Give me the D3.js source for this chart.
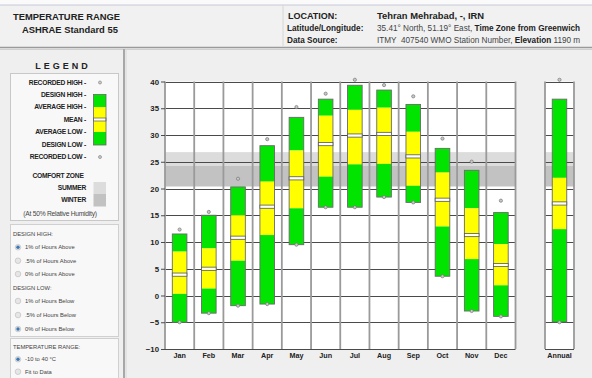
<!DOCTYPE html>
<html>
<head>
<meta charset="utf-8">
<script src="https://cdn.jsdelivr.net/npm/d3@7"></script>
<style>
  html, body { margin: 0; padding: 0; background: #efefef; }
  svg { display: block; font-family: "Liberation Sans", Arial, sans-serif; }
</style>
</head>
<body>
<svg id="chart" width="592" height="378"></svg>
<script>
// Monthly temperature statistics, °C
const months = ["Jan","Feb","Mar","Apr","May","Jun","Jul","Aug","Sep","Oct","Nov","Dec"];
const recordedHigh = [12.1, 15.4, 21.6, 29.0, 35.0, 37.5, 40.1, 39.1, 37.0, 29.1, 24.8, 17.5];
const designHigh   = [11.5, 15.0, 20.3, 28.0, 33.3, 36.7, 39.3, 38.4, 35.7, 27.5, 23.4, 15.5];
const averageHigh  = [ 8.2,  8.8, 15.0, 21.3, 27.1, 33.6, 34.7, 35.1, 30.6, 23.0, 16.3,  9.6];
const meanTemp     = [ 3.9,  5.0, 10.8, 16.6, 21.9, 28.3, 29.9, 30.2, 26.0, 17.9, 11.3,  5.7];
const averageLow   = [ 0.3,  1.3,  6.5, 11.3, 16.3, 22.2, 24.5, 24.6, 20.5, 12.9,  6.8,  1.9];
const designLow    = [-5.0, -3.3, -1.9, -1.6,  9.5, 16.5, 16.5, 18.4, 17.4,  3.6, -2.9, -3.9];
const recordedLow  = [-5.0, -3.3, -1.9, -1.6,  9.5, 16.5, 16.5, 18.4, 17.4,  3.6, -2.9, -3.9];

// Whole-year summary
const annualLabel = ["Annual"];
const annualStats = [40.1, 36.7, 22.0, 17.2, 12.4, -4.95, -5.0]; // recHigh, desHigh, avgHigh, mean, avgLow, desLow, recLow

// Comfort zones (°C at 50% RH)
const summerZone = [20.4, 26.8];
const winterZone = [20.4, 24.2];

const yTicks = [-10, -5, 0, 5, 10, 15, 20, 25, 30, 35, 40];

const GREEN = "#00e400", YELLOW = "#ffff00";
const svg = d3.select("#chart");

// ---------- header ----------
svg.append("rect").attr("x", 0).attr("y", 0).attr("width", 592).attr("height", 5).attr("fill", "#fafafa");
svg.append("rect").attr("x", 0).attr("y", 5).attr("width", 592).attr("height", 42).attr("fill", "#f1f1f1");
svg.append("line").attr("x1", 0).attr("x2", 592).attr("y1", 5).attr("y2", 5).attr("stroke", "#c6c8d8").attr("stroke-width", 1.2);
svg.append("line").attr("x1", 283).attr("x2", 283).attr("y1", 5).attr("y2", 46).attr("stroke", "#d6d6d6");
svg.append("line").attr("x1", 0).attr("x2", 592).attr("y1", 47.5).attr("y2", 47.5).attr("stroke", "#9a9a9a").attr("stroke-width", 1.6);
svg.append("line").attr("x1", 0).attr("x2", 592).attr("y1", 49.5).attr("y2", 49.5).attr("stroke", "#d0d0d0").attr("stroke-width", 1.2);

const hdr = svg.append("g").attr("fill", "#222");
hdr.append("text").attr("x", 13).attr("y", 20).attr("font-size", 9.4).attr("font-weight", "bold").text("TEMPERATURE RANGE");
hdr.append("text").attr("x", 22).attr("y", 33).attr("font-size", 9.4).attr("font-weight", "bold").text("ASHRAE Standard 55");

hdr.append("text").attr("x", 288).attr("y", 19).attr("font-size", 9).attr("font-weight", "bold").text("LOCATION:");
hdr.append("text").attr("x", 377).attr("y", 19).attr("font-size", 9.4).attr("font-weight", "bold").text("Tehran Mehrabad, -, IRN");
hdr.append("text").attr("x", 287).attr("y", 31).attr("font-size", 8.2).attr("font-weight", "bold").text("Latitude/Longitude:");
const ll = hdr.append("text").attr("x", 377).attr("y", 31).attr("font-size", 8.2);
ll.append("tspan").attr("fill", "#444").text("35.41° North, 51.19° East, ");
ll.append("tspan").attr("font-weight", "bold").text("Time Zone from Greenwich");
hdr.append("text").attr("x", 287).attr("y", 42.5).attr("font-size", 8.2).attr("font-weight", "bold").text("Data Source:");
const ds = hdr.append("text").attr("x", 377).attr("y", 42.5).attr("font-size", 8.2);
ds.append("tspan").attr("fill", "#444").text("ITMY");
ds.append("tspan").attr("x", 401).attr("fill", "#444").text("407540 WMO Station Number, ");
ds.append("tspan").attr("font-weight", "bold").text("Elevation");
ds.append("tspan").attr("fill", "#444").text(" 1190 m");

// ---------- left panel ----------
svg.append("line").attr("x1", 124).attr("x2", 124).attr("y1", 49).attr("y2", 378).attr("stroke", "#a8a8a8").attr("stroke-width", 2);
svg.append("line").attr("x1", 126).attr("x2", 126).attr("y1", 49).attr("y2", 378).attr("stroke", "#d8d8d8").attr("stroke-width", 1);

svg.append("text").attr("x", 63).attr("y", 69).attr("text-anchor", "middle").attr("font-size", 9).attr("font-weight", "bold")
  .attr("letter-spacing", 3).attr("fill", "#222").text("LEGEND");

svg.append("rect").attr("x", 10.5).attr("y", 73.5).attr("width", 108).attr("height", 147).attr("fill", "#f8f8f8").attr("stroke", "#c8c8c8");

const legendRows = [
  ["RECORDED HIGH -", 82.5], ["DESIGN HIGH -", 94.5], ["AVERAGE HIGH -", 106.8], ["MEAN -", 119.3],
  ["AVERAGE LOW -", 131.5], ["DESIGN LOW -", 144.3], ["RECORDED LOW -", 157]
];
const lg = svg.append("g").attr("font-size", 6.7).attr("font-weight", "bold").attr("fill", "#222").attr("letter-spacing", -0.25);
lg.selectAll("text.row").data(legendRows).join("text")
  .attr("x", 86).attr("y", d => d[1] + 2.3).attr("text-anchor", "end").text(d => d[0]);

// legend sample bar
const lbx = 93.5, lbw = 12.5;
svg.append("rect").attr("x", lbx).attr("y", 94.5).attr("width", lbw).attr("height", 12.5).attr("fill", GREEN);
svg.append("rect").attr("x", lbx).attr("y", 107).attr("width", lbw).attr("height", 11).attr("fill", YELLOW);
svg.append("rect").attr("x", lbx).attr("y", 121).attr("width", lbw).attr("height", 11).attr("fill", YELLOW);
svg.append("rect").attr("x", lbx).attr("y", 132).attr("width", lbw).attr("height", 13).attr("fill", GREEN);
svg.append("rect").attr("x", lbx).attr("y", 118).attr("width", lbw).attr("height", 3).attr("fill", "#fff").attr("stroke", "#555").attr("stroke-width", 0.7);
svg.append("rect").attr("x", lbx).attr("y", 94.5).attr("width", lbw).attr("height", 50.5).attr("fill", "none").attr("stroke", "#666").attr("stroke-width", 0.8);
[82.5, 157].forEach(cy => svg.append("circle").attr("cx", 100).attr("cy", cy).attr("r", 1.5).attr("fill", "#ccc").attr("stroke", "#777").attr("stroke-width", 0.6));

lg.append("text").attr("x", 58).attr("y", 178).attr("text-anchor", "middle").text("COMFORT ZONE");
lg.append("text").attr("x", 86).attr("y", 189.5).attr("text-anchor", "end").text("SUMMER");
lg.append("text").attr("x", 86).attr("y", 202.3).attr("text-anchor", "end").text("WINTER");
svg.append("rect").attr("x", lbx).attr("y", 182).attr("width", lbw).attr("height", 12).attr("fill", "#dcdcdc");
svg.append("rect").attr("x", lbx).attr("y", 194).attr("width", lbw).attr("height", 12.5).attr("fill", "#c2c2c2");
lg.append("text").attr("x", 60).attr("y", 216.3).attr("text-anchor", "middle").attr("font-weight", "normal").attr("fill", "#444")
  .text("(At 50% Relative Humidity)");

// option groups
svg.append("rect").attr("x", 10.5).attr("y", 224.5).attr("width", 108).attr("height", 112).attr("fill", "#f8f8f8").attr("stroke", "#d0d0d0");
svg.append("rect").attr("x", 10.5).attr("y", 338.5).attr("width", 108).attr("height", 45).attr("fill", "#f8f8f8").attr("stroke", "#d0d0d0");

const optHeads = [["DESIGN HIGH:", 234], ["DESIGN LOW:", 287.7], ["TEMPERATURE RANGE:", 346.7]];
const optRows = [
  ["1% of Hours Above", 247.3, true], [".5% of Hours Above", 260.7, false], ["0% of Hours Above", 274, false],
  ["1% of Hours Below", 301, false], [".5% of Hours Below", 315, false], ["0% of Hours Below", 329, true],
  ["-10 to 40 °C", 359.3, true], ["Fit to Data", 371.7, false]
];
const og = svg.append("g").attr("font-size", 5.8).attr("fill", "#444");
og.selectAll("text.h").data(optHeads).join("text").attr("x", 13).attr("y", d => d[1] + 2).text(d => d[0]);
og.selectAll("text.o").data(optRows).join("text").attr("x", 25).attr("y", d => d[1] + 2).text(d => d[0]);
og.selectAll("circle.o").data(optRows).join("circle")
  .attr("cx", 18).attr("cy", d => d[1]).attr("r", 2.8).attr("fill", "#e6e6e6").attr("stroke", "#b8b8b8").attr("stroke-width", 0.6);
og.selectAll("circle.s").data(optRows.filter(d => d[2])).join("circle")
  .attr("cx", 18).attr("cy", d => d[1]).attr("r", 1.7).attr("fill", "#3a78b8");

// ---------- plot ----------
const y = d3.scaleLinear().domain([-10, 40]).range([349, 81.5]);
const x = d3.scaleBand().domain(months).range([165, 515.5]).padding(0);
const xa = d3.scaleBand().domain(annualLabel).range([545, 574]).padding(0);
const barFrac = 0.5;

function panel(x0, x1, scale) {
  const g = svg.append("g");
  g.append("rect").attr("x", x0).attr("y", y(40)).attr("width", x1 - x0).attr("height", y(-10) - y(40)).attr("fill", "#fff");
  // comfort zones
  g.append("rect").attr("x", x0).attr("width", x1 - x0)
    .attr("y", y(summerZone[1])).attr("height", y(summerZone[0]) - y(summerZone[1])).attr("fill", "#dcdcdc");
  g.append("rect").attr("x", x0).attr("width", x1 - x0)
    .attr("y", y(winterZone[1])).attr("height", y(winterZone[0]) - y(winterZone[1])).attr("fill", "#c2c2c2");
  // horizontal grid
  g.selectAll("line.h").data(yTicks).join("line")
    .attr("x1", x0).attr("x2", x1).attr("y1", d => Math.round(y(d)) + 0.5).attr("y2", d => Math.round(y(d)) + 0.5)
    .attr("stroke", "#4a4a4a").attr("stroke-width", 1);
  // vertical grid
  const edges = scale.domain().map(d => scale(d)).concat([x1]);
  g.selectAll("line.v").data(edges).join("line")
    .attr("x1", d => d).attr("x2", d => d).attr("y1", y(40)).attr("y2", y(-10))
    .attr("stroke", "#9a9a9a").attr("stroke-width", 1.8);
  return g;
}
panel(165, 515.5, x);
panel(545, 574, xa);

// y axis labels
const axis = d3.axisLeft(y).tickValues(yTicks).tickSize(4).tickPadding(2).tickFormat(d3.format("d"));
const ag = svg.append("g").attr("transform", "translate(165,0)").call(axis);
ag.select(".domain").remove();
ag.selectAll(".tick line").attr("stroke", "#4a4a4a");
ag.selectAll(".tick text").attr("font-size", 7.8).attr("font-weight", "bold").attr("fill", "#222").attr("font-family", "Liberation Sans, Arial, sans-serif");

// x labels
svg.append("g").selectAll("text").data(months).join("text")
  .attr("x", d => x(d) + x.bandwidth() / 2).attr("y", 358).attr("text-anchor", "middle")
  .attr("font-size", 7.2).attr("font-weight", "bold").attr("fill", "#222").text(d => d);
svg.append("text").attr("x", xa(annualLabel[0]) + xa.bandwidth() / 2).attr("y", 358).attr("text-anchor", "middle")
  .attr("font-size", 7.2).attr("font-weight", "bold").attr("fill", "#222").text(annualLabel[0]);

// range bars
function drawBar(cx, bw, rh, dh, ah, mn, al, dl, rl) {
  const g = svg.append("g");
  const x0 = cx - bw / 2;
  const seg = (a, b, c) => g.append("rect").attr("x", x0).attr("width", bw).attr("y", y(a)).attr("height", y(b) - y(a)).attr("fill", c);
  seg(dh, ah, GREEN);
  seg(ah, mn, YELLOW);
  seg(mn, al, YELLOW);
  seg(al, dl, GREEN);
  g.append("rect").attr("x", x0).attr("width", bw).attr("y", y(dh)).attr("height", y(dl) - y(dh))
    .attr("fill", "none").attr("stroke", "#6a6a6a").attr("stroke-width", 0.9);
  g.append("rect").attr("x", x0).attr("width", bw).attr("y", y(mn) - 1.6).attr("height", 3.2)
    .attr("fill", "#fff").attr("stroke", "#555").attr("stroke-width", 0.8);
  [rh, rl].forEach(v => g.append("circle").attr("cx", cx).attr("cy", y(v) + (v === rh ? -1.2 : 0)).attr("r", 1.6)
    .attr("fill", "#c8c8c8").attr("stroke", "#777").attr("stroke-width", 0.7));
}
months.forEach((m, i) => {
  drawBar(x(m) + x.bandwidth() / 2, x.bandwidth() * barFrac,
    recordedHigh[i], designHigh[i], averageHigh[i], meanTemp[i], averageLow[i], designLow[i], recordedLow[i]);
});
drawBar(xa(annualLabel[0]) + xa.bandwidth() / 2, xa.bandwidth() * barFrac, ...annualStats);
</script>
</body>
</html>
